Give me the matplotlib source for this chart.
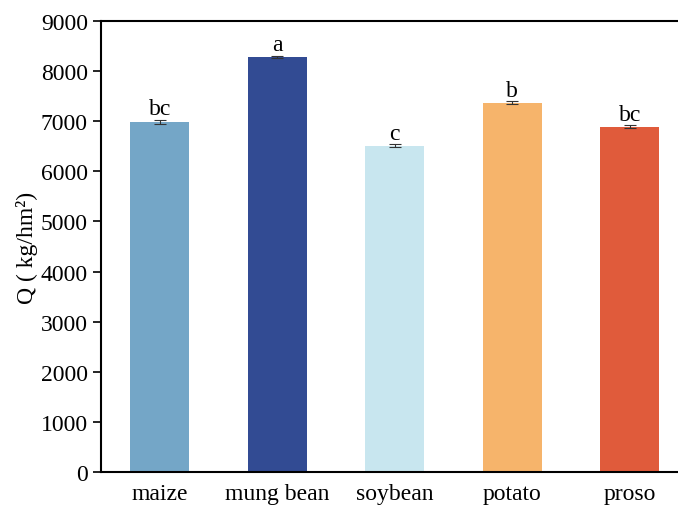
import matplotlib
matplotlib.use('Agg')
import matplotlib.pyplot as plt

plt.rcParams['font.family'] = ['Liberation Serif', 'DejaVu Serif']

crops = ['maize', 'mung bean', 'soybean', 'potato', 'proso']
yields = [6990, 8280, 6510, 7370, 6890]
errors = [40, 25, 30, 25, 25]
letters = ['bc', 'a', 'c', 'b', 'bc']
colors = ['#74A6C7', '#324B93', '#C8E6EF', '#F6B46B', '#E05B3B']

fig = plt.figure(figsize=(6.78, 5.06), dpi=100)
ax = fig.add_axes([101 / 678, 33 / 506, 577 / 678, 451 / 506])

x = range(len(crops))
ax.bar(x, yields, width=0.5, color=colors, yerr=errors,
       error_kw=dict(ecolor='#333333', elinewidth=0.8, capsize=4, capthick=0.8))
for i, (v, e, t) in enumerate(zip(yields, errors, letters)):
    ax.text(i, v + e + 10, t, ha='center', va='bottom', fontsize=17)

ax.set_xlim(-0.5, 4.41)
ax.set_ylim(0, 9000)
ax.set_yticks(range(0, 9001, 1000))
ax.set_xticks(list(x))
ax.set_xticklabels(crops)
ax.tick_params(axis='y', direction='out', length=6, width=1.2, labelsize=17)
ax.tick_params(axis='x', length=0, labelsize=17, pad=8)
for s in ax.spines.values():
    s.set_linewidth(1.5)
ax.spines['right'].set_visible(False)
ax.set_ylabel('Q ( kg/hm²)', fontsize=17, labelpad=2)

fig.savefig('out.png', dpi=100)
